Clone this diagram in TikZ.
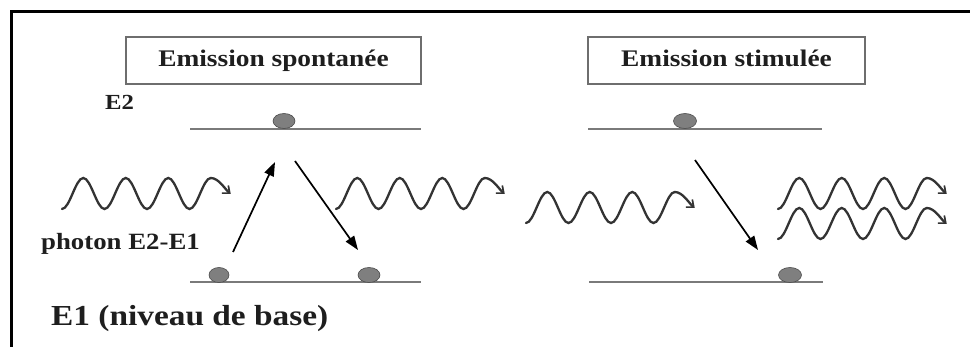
\documentclass[tikz,border=0pt]{standalone}
\usepackage{fontspec}
\newfontfamily\lblfont[FakeStretch=1.15]{Liberation Serif}
\usetikzlibrary{arrows.meta,shapes.geometric}
\definecolor{lvl}{HTML}{7A7A7A}
\definecolor{boxc}{HTML}{6E6E6E}
\definecolor{ink}{HTML}{1E1E1E}
\definecolor{wavec}{HTML}{333333}
\definecolor{dotc}{HTML}{7F7F7F}
\tikzset{
  frame/.style={line width=3pt, black},
  titlebox/.style={draw=boxc, line width=1.8pt, rectangle, inner sep=0pt,
    text=ink, font=\lblfont\bfseries\fontsize{23.8}{27}\selectfont,
    text height=16pt, text depth=4.5pt},
  lbl/.style={inner sep=0pt, text=ink, font=\lblfont\bfseries},
  level/.style={draw=lvl, line width=2pt},
  electron/.style={ellipse, draw=black!70, fill=dotc, line width=0.6pt,
    minimum width=22pt, minimum height=15pt, inner sep=0pt},
  transition/.style={line width=1.7pt, black, -{Triangle[length=14pt,width=10pt]}},
  wave/.style={line width=2.3pt, wavec, line cap=round,
    -{Straight Barb[length=6pt,width=10pt,line width=1.7pt]}},
}
\newcommand\photonwave[2]{%
  \draw[wave] (#1,#2)
    cos ++(10.625,-15.5) sin ++(10.625,-15.5) cos ++(10.625,15.5) sin ++(10.625,15.5)
    cos ++(10.625,-15.5) sin ++(10.625,-15.5) cos ++(10.625,15.5) sin ++(10.625,15.5)
    cos ++(10.625,-15.5) sin ++(10.625,-15.5) cos ++(10.625,15.5) sin ++(10.625,15.5)
    cos ++(10.625,-15.5) sin ++(10.625,-15.5)
    .. controls ++(8,0) and ++(-6,-5) .. ++(20,16);}
\begin{document}
\begin{tikzpicture}[x=1pt,y=-1pt]
\useasboundingbox (0,0) rectangle (970,347);
\fill[white] (0,0) rectangle (970,347);
\draw[frame] (11.5,347) -- (11.5,11.5) -- (970,11.5);

% title boxes
\node[titlebox, minimum width=295pt, minimum height=47pt] (spont) at (273.5,60.5) {Emission spontanée};
\node[titlebox, minimum width=277pt, minimum height=47pt] (stim) at (726.5,60.5) {Emission stimulée};

% labels
\node[lbl, anchor=base west, font=\lblfont\bfseries\fontsize{21.5}{24}\selectfont] (e2lbl) at (105,110) {E2};
\node[lbl, anchor=base west, font=\lblfont\bfseries\fontsize{23.3}{26}\selectfont] (phlbl) at (41,250) {photon E2-E1};
\node[lbl, anchor=base west, font=\lblfont\bfseries\fontsize{29}{32}\selectfont] (e1lbl) at (51,326) {E1 (niveau de base)};

% energy levels
\draw[level] (190,129) -- (421,129);
\draw[level] (588,129) -- (822,129);
\draw[level] (190,282) -- (421,282);
\draw[level] (589,282) -- (823,282);

% electrons
\node[electron] (dA) at (284,121) {};
\node[electron, minimum width=20pt] (dB) at (219,275) {};
\node[electron] (dC) at (369,275) {};
\node[electron, minimum width=23pt] (dD) at (685,121) {};
\node[electron, minimum width=23pt] (dE) at (790,275) {};

% transitions
\coordinate (upS) at (233,252);
\coordinate (upE) at (275,162);
\coordinate (dnS) at (295,161);
\coordinate (dnE) at (358,250);
\coordinate (stS) at (695,160);
\coordinate (stE) at (758,250);
\draw[transition] (upS) -- (upE);
\draw[transition] (dnS) -- (dnE);
\draw[transition] (stS) -- (stE);

% photons
\photonwave{62}{209}
\photonwave{336}{209}
\photonwave{526}{223}
\photonwave{778}{209}
\photonwave{778}{239}
\end{tikzpicture}
\end{document}
